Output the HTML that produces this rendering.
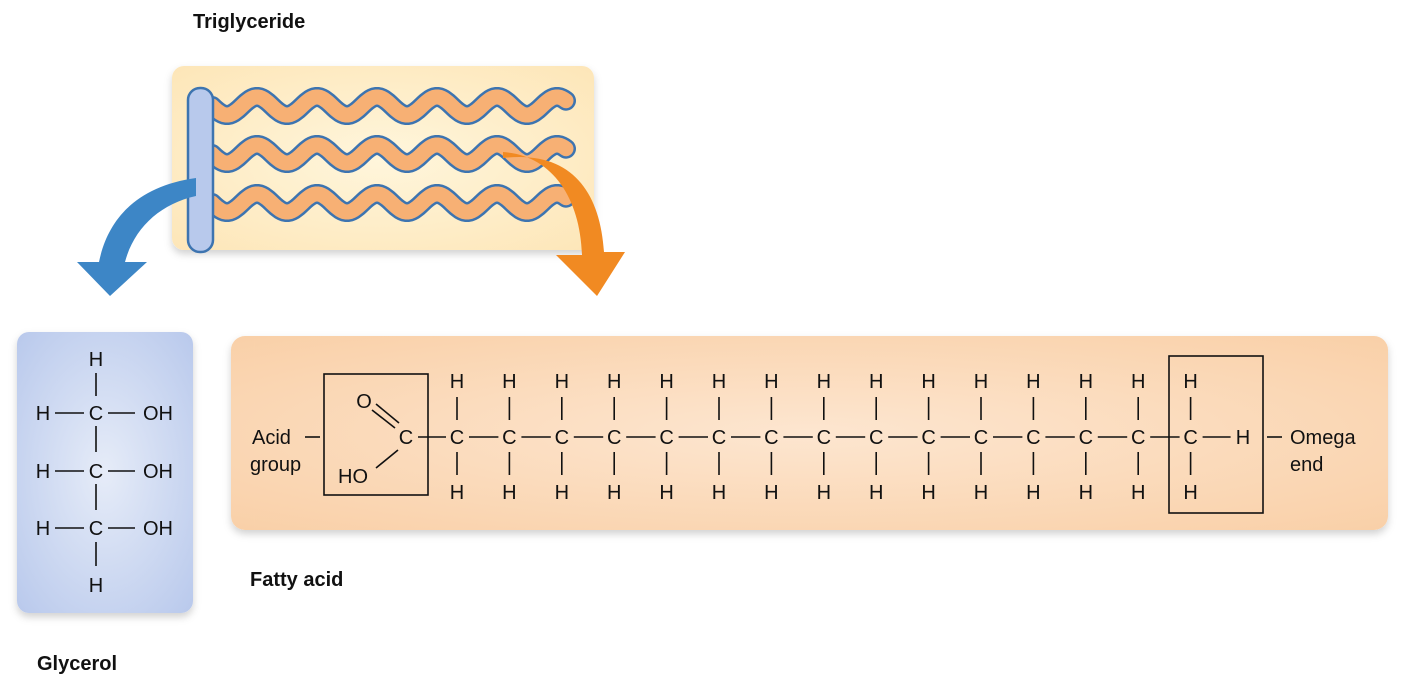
<!DOCTYPE html>
<html><head><meta charset="utf-8">
<style>
html,body{margin:0;padding:0;background:#fff;}
svg{display:block;font-family:"Liberation Sans",Arial,sans-serif;}
</style></head>
<body>
<svg id="s" width="1411" height="681" viewBox="0 0 1411 681" xmlns="http://www.w3.org/2000/svg">
<defs>
<radialGradient id="gy" cx="50%" cy="50%" r="70%"><stop offset="0" stop-color="#fff6dc"/><stop offset="1" stop-color="#fde6b8"/></radialGradient>
<radialGradient id="gb" cx="50%" cy="50%" r="70%"><stop offset="0" stop-color="#e6ecf8"/><stop offset="1" stop-color="#b9c9ec"/></radialGradient>
<radialGradient id="go" cx="50%" cy="50%" r="70%"><stop offset="0" stop-color="#fde6d0"/><stop offset="1" stop-color="#f9d0a8"/></radialGradient>
<filter id="sh" x="-10%" y="-10%" width="120%" height="130%"><feDropShadow dx="0" dy="4" stdDeviation="4" flood-color="#000" flood-opacity="0.18"/></filter>
</defs>
<text x="193" y="28" font-size="20" font-weight="bold" fill="#111">Triglyceride</text>
<rect x="172" y="66" width="422" height="184" rx="12" fill="url(#gy)" filter="url(#sh)"/>
<g id="waves"></g>
<rect x="188" y="88" width="25" height="164" rx="12" fill="#b8c9ec" stroke="#3d74b0" stroke-width="2.5"/>
<path d="M196,178 C138,186 108,218 99,262 L77,262 L110,296 L147,262 L125,262 C134,228 160,204 196,196 Z" fill="#3d86c6"/>
<path d="M503,152 C550,155 580,195 582,255 L556,255 L597,296 L625,252 L604,252 C600,190 570,150 503,158 Z" fill="#f18a22"/>

<rect x="17" y="332" width="176" height="281" rx="12" fill="url(#gb)" filter="url(#sh)"/>
<g id="gly" font-size="20" fill="#111" stroke="#111"></g>
<text x="37" y="670" font-size="20" font-weight="bold" fill="#111">Glycerol</text>

<rect x="231" y="336" width="1157" height="194" rx="14" fill="url(#go)" filter="url(#sh)"/>
<g id="fa" font-size="20" fill="#111"></g>
<text x="250" y="586" font-size="20" font-weight="bold" fill="#111">Fatty acid</text>
</svg>
<script>
const NS="http://www.w3.org/2000/svg";
function mk(p,tag,a){const e=document.createElementNS(NS,tag);for(const k in a)e.setAttribute(k,a[k]);p.appendChild(e);return e;}
function txt(p,x,y,s,anchor){const t=mk(p,'text',{x:x,y:y,'text-anchor':anchor||'middle',stroke:'none',fill:'#111','font-size':20});t.textContent=s;return t;}
function ln(p,x1,y1,x2,y2){return mk(p,'line',{x1:x1,y1:y1,x2:x2,y2:y2,stroke:'#111','stroke-width':1.6});}
const wy=[106,154,203];
const W=document.getElementById('waves');
wy.forEach((y0,i)=>{
 let d='';
 for(let x=212;x<=566;x+=2){const y=y0+9*Math.sin((x-212)/60*2*Math.PI);d+=(x==212?'M':'L')+x+','+y.toFixed(1);}
 const o=mk(W,'path',{d:d,fill:'none',stroke:'#3d74b0','stroke-width':20,'stroke-linecap':'round'});
 
 
 const f=mk(W,'path',{d:d,fill:'none',stroke:'#f7b074','stroke-width':15,'stroke-linecap':'round'});
 
 
});
const G=document.getElementById('gly');
txt(G,96,366,'H');
ln(G,96,373,96,396);
[420,478,535].forEach((y,i)=>{
 txt(G,43,y,'H');txt(G,96,y,'C');txt(G,158,y,'OH');
 ln(G,55,y-7,84,y-7);ln(G,108,y-7,135,y-7);
 if(i<2) ln(G,96,y+6,96,y+32);
});
ln(G,96,542,96,566);
txt(G,96,592,'H');
const F=document.getElementById('fa');
const cy=444;
txt(F,252,cy,'Acid','start');txt(F,250,471,'group','start');
ln(F,305,cy-7,320,cy-7);
const ab=mk(F,'rect',{x:324,y:374,width:104,height:121,fill:'none',stroke:'#111','stroke-width':1.6});


txt(F,364,408,'O');txt(F,406,cy,'C');txt(F,353,483,'HO');
ln(F,372,410,395,428);ln(F,376,404,399,423);
ln(F,376,468,398,450);
const n=15,x0=457,dx=52.4;
for(let i=0;i<n;i++){
 const x=x0+i*dx;
 txt(F,x,cy,'C');txt(F,x,388,'H');txt(F,x,499,'H');
 ln(F,x,397,x,420);ln(F,x,452,x,475);
 const px=i==0?418:x-dx+12;
 ln(F,px,cy-7,x-11,cy-7);
}
const xl=x0+(n-1)*dx;
ln(F,xl+12,cy-7,xl+40,cy-7);
txt(F,1243,cy,'H');
const ob=mk(F,'rect',{x:1169,y:356,width:94,height:157,fill:'none',stroke:'#111','stroke-width':1.6});


ln(F,1267,cy-7,1282,cy-7);
txt(F,1290,cy,'Omega','start');txt(F,1290,471,'end','start');
</script>
</body></html>
